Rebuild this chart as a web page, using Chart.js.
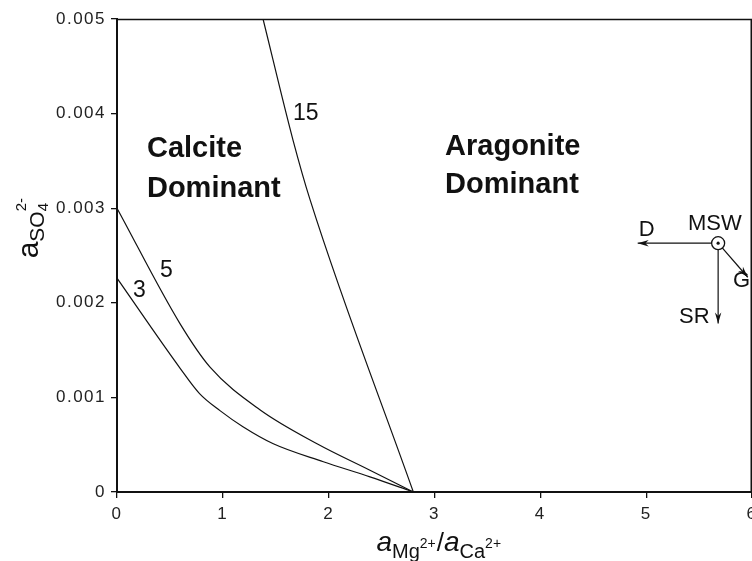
<!DOCTYPE html>
<html>
<head>
<meta charset="utf-8">
<script src="https://cdn.jsdelivr.net/npm/chart.js@4.4.1/dist/chart.umd.min.js"></script>
<style>
  html, body { margin: 0; padding: 0; background: #fff; }
  #wrap { width: 752px; height: 561px; position: relative; }
</style>
</head>
<body>
<div id="wrap"><canvas id="phaseChart"></canvas></div>
<script>
// curves (x = aMg/aCa ratio, y = aSO4 activity)
var curve15X = [1.38, 1.663, 1.824, 2.80];
var curve15Y = [0.0050, 0.00372, 0.00309, 0];
var curve5X = [0, 0.595, 0.879, 1.35, 1.89, 2.39, 2.80];
var curve5Y = [0.0030, 0.00178, 0.00132, 0.00087, 0.00051, 0.00023, 0];
var curve3X = [0, 0.595, 0.78, 0.973, 1.19, 1.477, 1.95, 2.39, 2.80];
var curve3Y = [0.00226, 0.00131, 0.00104, 0.00086, 0.00069, 0.00051, 0.00032, 0.00016, 0];

// modern seawater point and the arrows out of it
var mswX = 5.68, mswY = 0.00263;
var arrowNames = ["D", "SR", "G"];
var arrowEndX = [4.92, 5.68, 5.96];
var arrowEndY = [0.00263, 0.00178, 0.00227];

var xTicks = [0, 1, 2, 3, 4, 5, 6];
var yTicks = [0, 0.001, 0.002, 0.003, 0.004, 0.005];

function toPts(xs, ys) {
  var out = [];
  for (var i = 0; i < xs.length; i++) out.push({x: xs[i], y: ys[i]});
  return out;
}

var ink = "#111";
var font = "'Liberation Sans', Arial, Helvetica, sans-serif";

var datasets = [];
// circle on top
datasets.push({data: [{x: mswX, y: mswY}], pointRadius: 1.6, pointBackgroundColor: ink, pointBorderWidth: 0, showLine: false});
datasets.push({data: [{x: mswX, y: mswY}], pointRadius: 6.5, pointBackgroundColor: "#fff", pointBorderColor: ink, pointBorderWidth: 1.3, showLine: false});
for (var i = 0; i < arrowNames.length; i++) {
  datasets.push({data: toPts([mswX, arrowEndX[i]], [mswY, arrowEndY[i]]), showLine: true, borderColor: ink, borderWidth: 1.2, pointRadius: 0, tension: 0});
}
[[curve15X, curve15Y], [curve5X, curve5Y], [curve3X, curve3Y]].forEach(function (c) {
  datasets.push({data: toPts(c[0], c[1]), showLine: true, borderColor: ink, borderWidth: 1.2, pointRadius: 0, cubicInterpolationMode: "monotone"});
});

// little helper for sub/superscript text runs
function drawRuns(ctx, runs, x, y) {
  var cx = x;
  runs.forEach(function (r) {
    ctx.font = (r.style || "") + " " + r.size + "px " + font;
    ctx.fillText(r.t, cx, y + (r.dy || 0));
    cx += ctx.measureText(r.t).width + (r.gap || 0);
  });
  return cx - x;
}
function runsWidth(ctx, runs) {
  var w = 0;
  runs.forEach(function (r) {
    ctx.font = (r.style || "") + " " + r.size + "px " + font;
    w += ctx.measureText(r.t).width + (r.gap || 0);
  });
  return w;
}

var decor = {
  id: "decor",
  beforeDraw: function (chart) {
    // the scanned tick numbers are spaced out a bit
    chart.ctx.letterSpacing = "1.5px";
  },
  beforeDatasetsDraw: function (chart) {
    chart.ctx.letterSpacing = "0px";
  },
  afterDatasetsDraw: function (chart) {
    var ctx = chart.ctx, a = chart.chartArea;
    var xs = chart.scales.x, ys = chart.scales.y;
    ctx.save();
    ctx.letterSpacing = "0px";
    // frame top/right
    ctx.strokeStyle = ink;
    ctx.lineWidth = 1.5;
    ctx.beginPath();
    ctx.moveTo(a.left, a.top + 0.5);
    ctx.lineTo(a.right - 0.75, a.top + 0.5);
    ctx.lineTo(a.right - 0.75, a.bottom);
    ctx.stroke();

    // arrow heads
    ctx.fillStyle = ink;
    for (var i = 0; i < arrowNames.length; i++) {
      var x0 = xs.getPixelForValue(mswX), y0 = ys.getPixelForValue(mswY);
      var x1 = xs.getPixelForValue(arrowEndX[i]), y1 = ys.getPixelForValue(arrowEndY[i]);
      var ang = Math.atan2(y1 - y0, x1 - x0);
      var L = 11, W = 3.2;
      ctx.beginPath();
      ctx.moveTo(x1, y1);
      ctx.lineTo(x1 - L * Math.cos(ang) + W * Math.sin(ang), y1 - L * Math.sin(ang) - W * Math.cos(ang));
      ctx.lineTo(x1 - L * 0.7 * Math.cos(ang), y1 - L * 0.7 * Math.sin(ang));
      ctx.lineTo(x1 - L * Math.cos(ang) - W * Math.sin(ang), y1 - L * Math.sin(ang) + W * Math.cos(ang));
      ctx.closePath();
      ctx.fill();
    }

    // labels in data space
    ctx.textBaseline = "alphabetic";
    ctx.textAlign = "left";
    ctx.fillStyle = ink;
    function txt(s, dx, dy, f) {
      ctx.font = f;
      ctx.fillText(s, xs.getPixelForValue(dx), ys.getPixelForValue(dy));
    }
    var big = "bold 29px " + font;
    txt("Calcite", 0.283, 0.00354, big);
    txt("Dominant", 0.283, 0.00312, big);
    txt("Aragonite", 3.10, 0.00356, big);
    txt("Dominant", 3.10, 0.00316, big);
    var num = "23px " + font;
    txt("15", 1.663, 0.00393, num);
    txt("5", 0.406, 0.00227, num);
    txt("3", 0.151, 0.00206, num);
    var sm = "22px " + font;
    txt("MSW", 5.395, 0.00277, sm);
    txt("D", 4.93, 0.00271, sm);
    txt("G", 5.82, 0.00217, sm);
    txt("SR", 5.31, 0.00179, sm);

    // x axis title: a_Mg2+ / a_Ca2+
    var xr = [
      {t: "a", size: 28, style: "italic"},
      {t: "Mg", size: 20, dy: 7},
      {t: "2+", size: 14, dy: -3, gap: 1},
      {t: "/", size: 26},
      {t: "a", size: 28, style: "italic"},
      {t: "Ca", size: 20, dy: 7},
      {t: "2+", size: 14, dy: -3}
    ];
    var xw = runsWidth(ctx, xr);
    drawRuns(ctx, xr, xs.getPixelForValue(3.04) - xw / 2, 551);

    // y axis title: a_SO4^2- rotated
    var yr = [
      {t: "a", size: 30},
      {t: "SO", size: 21, dy: 6},
      {t: "4", size: 15, dy: 10},
      {t: "2-", size: 15, dy: -12}
    ];
    var yw = runsWidth(ctx, yr);
    ctx.translate(38, 232);
    ctx.rotate(-Math.PI / 2);
    // the superscript sits above the 4, so pull it back
    var cx = -yw / 2 + 8;
    yr.forEach(function (r, k) {
      ctx.font = (r.style || "") + " " + r.size + "px " + font;
      if (k === 3) cx -= ctx.measureText("4").width;
      ctx.fillText(r.t, cx, r.dy || 0);
      cx += ctx.measureText(r.t).width;
    });
    ctx.restore();
  }
};

var chart = new Chart(document.getElementById("phaseChart"), {
  type: "scatter",
  data: {datasets: datasets},
  options: {
    responsive: true,
    maintainAspectRatio: false,
    animation: false,
    devicePixelRatio: 1,
    layout: {autoPadding: false, padding: {top: 19, right: 0, left: 0, bottom: 0}},
    plugins: {legend: {display: false}, tooltip: {enabled: false}},
    scales: {
      x: {
        type: "linear", min: 0, max: 6,
        afterBuildTicks: function (s) { s.ticks = xTicks.map(function (v) { return {value: v}; }); },
        ticks: {color: "#222", font: {family: font, size: 17}, padding: 6, maxRotation: 0, autoSkip: false},
        grid: {drawOnChartArea: false, drawTicks: true, tickLength: 6, color: ink, lineWidth: 1.3},
        border: {display: true, color: ink, width: 2},
        afterFit: function (s) { s.height = 69; s.paddingLeft = 0; s.paddingRight = 0; }
      },
      y: {
        type: "linear", min: 0, max: 0.005,
        afterBuildTicks: function (s) { s.ticks = yTicks.map(function (v) { return {value: v}; }); },
        ticks: {
          color: "#222", font: {family: font, size: 17}, padding: 5, autoSkip: false,
          callback: function (v) { return v === 0 ? "0" : v.toFixed(3); }
        },
        grid: {drawOnChartArea: false, drawTicks: true, tickLength: 6, color: ink, lineWidth: 1.3},
        border: {display: true, color: ink, width: 2},
        afterFit: function (s) { s.width = 117; s.paddingTop = 0; s.paddingBottom = 0; }
      }
    }
  },
  plugins: [decor]
});
</script>
</body>
</html>
